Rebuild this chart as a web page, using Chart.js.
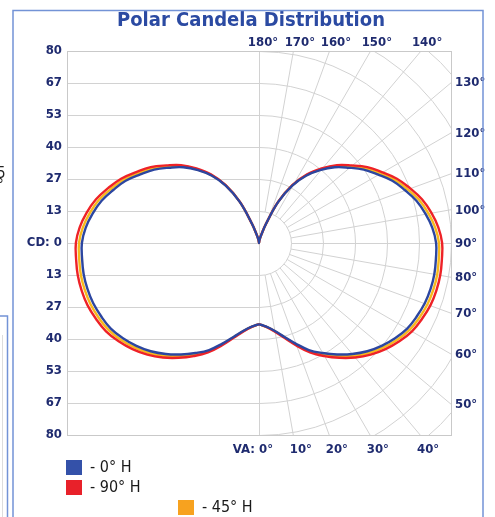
<!DOCTYPE html>
<html>
<head>
<meta charset="utf-8">
<script src="https://cdn.jsdelivr.net/npm/chart.js@4.4.1/dist/chart.umd.min.js"></script>
<style>
  html, body { margin: 0; padding: 0; background: #fff; }
  #c { display: block; }
</style>
</head>
<body>
<canvas id="c" width="495" height="517"></canvas>
<script>
// vertical angles, 0 = straight down, 180 = straight up
const VA = [0,5,10,15,20,25,30,35,40,45,50,55,60,65,70,75,80,85,90,95,100,105,110,115,120,125,130,135,140,145,150,155,160,165,170,175,180];
const CD_0H  = [33.8,35.0,37.1,40.4,44.6,49.2,52.9,56.7,60.4,63.8,66.7,69.2,71.3,72.5,73.5,74.0,74.2,74.0,73.8,72.5,70.4,67.9,64.6,61.3,57.1,53.3,48.8,44.6,39.6,34.2,27.5,18.8,8.3,3.3,1.5,0.4,0];
const CD_90H = [33.8,35.1,37.4,40.9,45.4,50.3,54.4,58.4,62.3,65.8,68.8,71.4,73.6,74.9,76.0,76.5,76.7,76.5,76.3,75.0,72.9,70.3,66.9,63.4,59.1,55.1,50.3,45.9,40.6,35.0,28.0,19.0,8.4,3.3,1.5,0.4,0];
const CD_45H = [33.8,35.1,37.2,40.6,45.0,49.7,53.6,57.5,61.3,64.8,67.7,70.3,72.4,73.7,74.7,75.2,75.4,75.2,75.0,73.7,71.6,69.1,65.7,62.3,58.1,54.2,49.5,45.2,40.1,34.6,27.7,18.9,8.3,3.3,1.5,0.4,0];

const CD_TICKS  = [-80,-66.67,-53.33,-40,-26.67,-13.33,0,13.33,26.67,40,53.33,66.67,80];
const CD_LABELS = ['80','67','53','40','27','13','CD: 0','13','27','40','53','67','80'];
const RINGS  = [13.33,26.67,40,53.33,66.67,80,93.33,106.67,120];
const SPOKES = [10,20,30,40,50,60,70,80,90,100,110,120,130,140,150,160,170];
const TOP_VA = [180,170,160,150,140];
const RIGHT_VA = [130,120,110,100,90,80,70,60,50];
const BOTTOM_VA = [0,10,20,30,40];

const GRID = '#d2d2d2';
const NAVY = '#1f2b6f';
const FONT = "'DejaVu Sans Condensed','DejaVu Sans',sans-serif";
const rad = d => d * Math.PI / 180;

// polar -> x/y, right half then mirrored left half
function curve(cd) {
  const right = VA.map((a, i) => ({ x: cd[i] * Math.sin(rad(a)), y: -cd[i] * Math.cos(rad(a)) }));
  const left = VA.map((a, i) => ({ x: -cd[i] * Math.sin(rad(a)), y: -cd[i] * Math.cos(rad(a)) })).reverse();
  return right.concat(left.slice(1));
}

const polarGrid = {
  id: 'polarGrid',
  beforeDatasetsDraw(chart) {
    const { ctx, chartArea: a, scales: { x, y } } = chart;
    const cx = Math.round(x.getPixelForValue(0)) + 0.5, cy = Math.round(y.getPixelForValue(0)) + 0.5;
    const r = v => x.getPixelForValue(v) - x.getPixelForValue(0);
    ctx.save();
    ctx.beginPath(); ctx.rect(a.left, a.top, a.width, a.height); ctx.clip();
    ctx.strokeStyle = GRID; ctx.lineWidth = 1;
    ctx.beginPath();
    CD_TICKS.forEach(v => {
      const py = Math.round(y.getPixelForValue(v)) + 0.5;
      ctx.moveTo(a.left, py); ctx.lineTo(cx, py);
    });
    ctx.moveTo(cx, a.top); ctx.lineTo(cx, a.bottom);
    ctx.stroke();
    RINGS.forEach(v => {
      ctx.beginPath(); ctx.arc(cx, cy, r(v), -Math.PI / 2, Math.PI / 2); ctx.stroke();
    });
    const r0 = r(RINGS[0]);
    ctx.beginPath();
    SPOKES.forEach(d => {
      const s = Math.sin(rad(d)), c = Math.cos(rad(d));
      ctx.moveTo(cx + r0 * s, cy + r0 * c); ctx.lineTo(cx + 400 * s, cy + 400 * c);
    });
    ctx.stroke();
    ctx.restore();
    ctx.save();
    ctx.strokeStyle = '#c9c9c9'; ctx.lineWidth = 1;
    ctx.strokeRect(a.left + 0.5, a.top + 0.5, a.width, a.height);
    ctx.restore();
  }
};

const decor = {
  id: 'decor',
  afterDraw(chart) {
    const { ctx, chartArea: a, scales: { x, y } } = chart;
    const cx = x.getPixelForValue(0), cy = y.getPixelForValue(0);
    ctx.save();
    // title
    ctx.fillStyle = '#2b4aa2';
    ctx.font = `bold 20px ${FONT}`;
    ctx.textAlign = 'center'; ctx.textBaseline = 'middle';
    ctx.fillText('Polar Candela Distribution', 251, 21);

    ctx.fillStyle = NAVY;
    ctx.font = `bold 13px ${FONT}`;
    // top edge
    TOP_VA.forEach(d => {
      const ix = cx + (cy - a.top) * Math.tan(rad(180 - d));
      ctx.fillText(d + '°', ix + (d === 180 ? 4 : 7), a.top - 8);
    });
    // bottom edge
    BOTTOM_VA.forEach(d => {
      const ix = cx + (a.bottom - cy) * Math.tan(rad(d));
      if (d === 0) { ctx.textAlign = 'right'; ctx.fillText('VA: 0°', ix + 14, a.bottom + 15); ctx.textAlign = 'center'; }
      else ctx.fillText(d + '°', ix + 8, a.bottom + 15);
    });
    // right edge
    ctx.textAlign = 'left';
    RIGHT_VA.forEach(d => {
      const iy = cy + (a.right - cx) / Math.tan(rad(d));
      ctx.fillText(d + '°', a.right + 4, iy + 1);
    });
    // frame
    ctx.strokeStyle = '#7393d6'; ctx.lineWidth = 1.5;
    ctx.beginPath();
    ctx.moveTo(13, 517); ctx.lineTo(13, 10.5); ctx.lineTo(483, 10.5); ctx.lineTo(483, 517);
    ctx.moveTo(0, 316); ctx.lineTo(7.5, 316); ctx.lineTo(7.5, 517);
    ctx.stroke();
    ctx.strokeStyle = '#dddddd'; ctx.lineWidth = 1;
    ctx.beginPath(); ctx.moveTo(2.5, 335); ctx.lineTo(2.5, 517); ctx.stroke();
    ctx.fillStyle = '#222';
    ctx.font = `15px ${FONT}`;
    ctx.fillText('5', -3, 174);
    ctx.fillText('°', -3, 186);
    // legend
    const items = [
      { i: 0, x: 66, y: 460 },
      { i: 1, x: 66, y: 480 },
      { i: 2, x: 178, y: 500 }
    ];
    ctx.font = `16px ${FONT}`;
    items.forEach(it => {
      const ds = chart.data.datasets[it.i];
      ctx.fillStyle = ds.legendColor;
      ctx.fillRect(it.x, it.y, 16, 15);
      ctx.fillStyle = '#1a1a1a';
      ctx.fillText('- ' + ds.label, it.x + 24, it.y + 8);
    });
    ctx.restore();
  }
};

new Chart(document.getElementById('c'), {
  type: 'scatter',
  data: {
    datasets: [
      { label: '0° H',  data: curve(CD_0H),  borderColor: '#2c46a0', legendColor: '#3451a9' },
      { label: '90° H', data: curve(CD_90H), borderColor: '#ee2227', legendColor: '#e8212a' },
      { label: '45° H', data: curve(CD_45H), borderColor: '#f6b91c', legendColor: '#f7a21f' }
    ].map(d => Object.assign(d, { showLine: true, pointRadius: 0, borderWidth: 2.4, tension: 0.4, fill: false }))
  },
  options: {
    responsive: false,
    animation: false,
    layout: { padding: { left: 0, right: 44, top: 51, bottom: 82 } },
    plugins: {
      legend: { display: false },
      tooltip: { enabled: false },
      title: { display: false }
    },
    scales: {
      x: { type: 'linear', min: -80, max: 80, display: false },
      y: {
        type: 'linear', min: -80, max: 80,
        grid: { display: false, drawTicks: false },
        border: { display: false },
        afterBuildTicks: s => { s.ticks = CD_TICKS.map(v => ({ value: v })); },
        afterFit: s => { s.width = 67; },
        ticks: {
          color: NAVY, padding: 5,
          font: { family: FONT, size: 13, weight: 'bold' },
          callback: (v, i) => CD_LABELS[i]
        }
      }
    }
  },
  plugins: [polarGrid, decor]
});
</script>
</body>
</html>
